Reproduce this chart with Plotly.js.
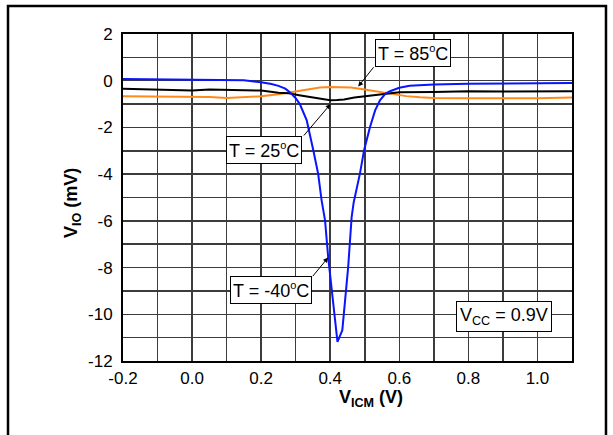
<!DOCTYPE html>
<html>
<head>
<meta charset="utf-8">
<script src="https://cdn.plot.ly/plotly-3.0.1.min.js"></script>
<style>
html,body{margin:0;padding:0;background:#fff;}
#chart{width:613px;height:435px;}
</style>
</head>
<body>
<div id="chart"></div>
<script>
// ---- data ----
const xTickVals = [-0.2, 0.0, 0.2, 0.4, 0.6, 0.8, 1.0];
const xTickText = ['-0.2', '0.0', '0.2', '0.4', '0.6', '0.8', '1.0'];
const yTickVals = [-12, -10, -8, -6, -4, -2, 0, 2];
const yTickText = ['-12', '-10', '-8', '-6', '-4', '-2', '0', '2'];

// T = -40 C (blue)
const xCold = [-0.2,-0.1,0.0,0.1,0.15,0.2,0.23,0.25,0.27,0.283,0.3,0.312,0.332,0.351,0.365,0.375,0.385,0.394,0.404,0.414,0.421,0.435,0.452,0.462,0.468,0.486,0.498,0.515,0.53,0.544,0.56,0.573,0.6,0.63,0.66,0.7,0.8,0.9,1.0,1.1];
const yCold = [0.07,0.06,0.05,0.04,0.02,-0.07,-0.14,-0.22,-0.34,-0.49,-0.75,-1.0,-1.7,-2.98,-3.98,-5.12,-5.98,-7.55,-8.97,-10.4,-11.18,-10.68,-7.97,-5.84,-5.2,-3.98,-2.98,-1.99,-1.27,-0.84,-0.55,-0.45,-0.3,-0.22,-0.19,-0.16,-0.13,-0.12,-0.11,-0.1];

// T = 25 C (black)
const xRoom = [-0.2,-0.1,0.0,0.05,0.1,0.15,0.2,0.25,0.28,0.31,0.34,0.37,0.4,0.42,0.44,0.47,0.5,0.53,0.56,0.6,0.7,0.8,0.9,1.0,1.1];
const yRoom = [-0.34,-0.37,-0.42,-0.38,-0.40,-0.41,-0.42,-0.52,-0.54,-0.62,-0.70,-0.78,-0.84,-0.83,-0.80,-0.72,-0.66,-0.60,-0.54,-0.49,-0.48,-0.45,-0.46,-0.45,-0.45];

// T = 85 C (orange)
const xHot = [-0.2,-0.1,0.0,0.05,0.1,0.15,0.2,0.25,0.28,0.31,0.34,0.37,0.4,0.43,0.46,0.49,0.52,0.55,0.58,0.62,0.66,0.7,0.8,0.9,1.0,1.1];
const yHot = [-0.67,-0.68,-0.72,-0.70,-0.74,-0.72,-0.67,-0.58,-0.50,-0.42,-0.34,-0.29,-0.27,-0.27,-0.29,-0.35,-0.42,-0.50,-0.58,-0.66,-0.71,-0.74,-0.75,-0.76,-0.75,-0.72];

const SUPO = '<sup><span style="font-size:11px">o</span></sup>';
const labelTexts = ['T = 85' + SUPO + 'C', 'T = 25' + SUPO + 'C', 'T = -40' + SUPO + 'C'];
const labelPos = [[0.64, 1.2], [0.208, -2.97], [0.2275, -8.97]];
const arrowTip = [[0.481, -0.25], [0.401, -1.0], [0.394, -7.57]];
const arrowTail = [[0.529, 0.64], [0.32, -2.41], [0.346, -8.43]];
const vccText = 'V<sub>CC</sub> = 0.9V';
const vccPos = [0.904, -10.11];

const FONT = 'Liberation Sans, Arial, Helvetica, sans-serif';

const traces = [
  {x: xHot, y: yHot, mode: 'lines', line: {color: '#ff8a1c', width: 2}, name: '85C'},
  {x: xRoom, y: yRoom, mode: 'lines', line: {color: '#000000', width: 2}, name: '25C'},
  {x: xCold, y: yCold, mode: 'lines', line: {color: '#0a14ff', width: 2}, name: '-40C'}
];

const annotations = [];
for (let i = 0; i < labelTexts.length; i++) {
  annotations.push({
    x: labelPos[i][0], y: labelPos[i][1], xref: 'x', yref: 'y',
    text: labelTexts[i], showarrow: false,
    font: {family: FONT, size: 18, color: '#000'},
    bgcolor: '#fff', bordercolor: '#000', borderwidth: 1, borderpad: 2,
    xanchor: 'center', yanchor: 'middle'
  });
  annotations.push({
    x: arrowTip[i][0], y: arrowTip[i][1], xref: 'x', yref: 'y',
    ax: arrowTail[i][0], ay: arrowTail[i][1], axref: 'x', ayref: 'y',
    text: '', showarrow: true, arrowhead: 2, arrowsize: 1, arrowwidth: 1,
    arrowcolor: '#000', standoff: 0, startstandoff: 0
  });
}
annotations.push({
  x: vccPos[0], y: vccPos[1], xref: 'x', yref: 'y',
  text: vccText, showarrow: false,
  font: {family: FONT, size: 18, color: '#000'},
  bgcolor: '#fff', bordercolor: '#000', borderwidth: 1, borderpad: 3,
  xanchor: 'center', yanchor: 'middle'
});
// axis titles
annotations.push({
  x: 0.552, y: -0.115, xref: 'paper', yref: 'paper',
  text: '<b>V<sub>ICM</sub> (V)</b>', showarrow: false,
  font: {family: FONT, size: 18, color: '#000'},
  xanchor: 'center', yanchor: 'middle'
});
annotations.push({
  x: -0.1136, y: 0.483, xref: 'paper', yref: 'paper',
  text: '<b>V<sub>IO</sub> (mV)</b>', showarrow: false, textangle: -90,
  font: {family: FONT, size: 18, color: '#000'},
  xanchor: 'center', yanchor: 'middle'
});

const layout = {
  width: 613, height: 435,
  margin: {l: 123, r: 41, t: 34, b: 74, pad: 0},
  paper_bgcolor: '#fff', plot_bgcolor: '#fff',
  showlegend: false,
  font: {family: FONT, size: 17, color: '#000'},
  xaxis: {
    range: [-0.2, 1.1], tickvals: xTickVals, ticktext: xTickText,
    showgrid: true, gridcolor: '#3c3c3c', gridwidth: 1.5,
    minor: {dtick: 0.1, tick0: -0.2, showgrid: true, gridcolor: '#3c3c3c', gridwidth: 1.5},
    showline: true, mirror: true, linecolor: '#000', linewidth: 2,
    zeroline: false, ticks: '', ticklabelstandoff: 1,
    tickfont: {family: FONT, size: 17, color: '#000'}
  },
  yaxis: {
    range: [-12, 2], tickvals: yTickVals, ticktext: yTickText,
    showgrid: true, gridcolor: '#3c3c3c', gridwidth: 1.5,
    minor: {dtick: 1, tick0: 0, showgrid: true, gridcolor: '#3c3c3c', gridwidth: 1.5},
    showline: true, mirror: true, linecolor: '#000', linewidth: 2,
    zeroline: false, ticks: '', ticklabelstandoff: 5,
    tickfont: {family: FONT, size: 17, color: '#000'}
  },
  annotations: annotations,
  shapes: [{
    type: 'rect', xref: 'paper', yref: 'paper',
    x0: -0.2561, x1: 1.0757, y0: -0.26, y1: 1.086,
    line: {color: '#000', width: 2.5}, fillcolor: 'rgba(0,0,0,0)', layer: 'above'
  }]
};

Plotly.newPlot('chart', traces, layout, {staticPlot: true, displayModeBar: false});
</script>
</body>
</html>
